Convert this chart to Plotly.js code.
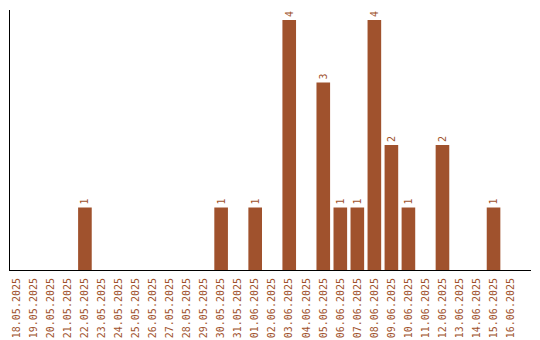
<!DOCTYPE html>
<html><head><meta charset="utf-8">
<script src="https://cdn.plot.ly/plotly-3.0.1.min.js"></script>
<style>html,body{margin:0;padding:0;background:#fff}#chart{width:540px;height:340px}</style>
</head><body><div id="chart"></div>
<script>
const dates = ["18.05.2025","19.05.2025","20.05.2025","21.05.2025","22.05.2025","23.05.2025","24.05.2025","25.05.2025","26.05.2025","27.05.2025","28.05.2025","29.05.2025","30.05.2025","31.05.2025","01.06.2025","02.06.2025","03.06.2025","04.06.2025","05.06.2025","06.06.2025","07.06.2025","08.06.2025","09.06.2025","10.06.2025","11.06.2025","12.06.2025","13.06.2025","14.06.2025","15.06.2025","16.06.2025"];
const counts = [0,0,0,0,1,0,0,0,0,0,0,0,1,0,1,0,4,0,3,1,1,4,2,1,0,2,0,0,1,0];
const labels = counts.map(v => v > 0 ? String(v) : "");
const color = "#A0522D";
const font = {family: "DejaVu Sans Mono, monospace", size: 10, color: color};
Plotly.newPlot("chart", [{
  type: "bar", x: dates, y: counts, text: labels,
  textposition: "outside", textangle: -90, cliponaxis: false,
  textfont: font, marker: {color: color}, hoverinfo: "none"
}], {
  width: 540, height: 340,
  margin: {l: 10, r: 9, t: 10, b: 70},
  paper_bgcolor: "#fff", plot_bgcolor: "#fff",
  bargap: 0.2, showlegend: false,
  xaxis: {type: "category", range: [-0.4, 30.2], tickangle: -90, tickfont: font, ticklabelstandoff: 3,
    showline: true, linecolor: "#000", linewidth: 1, ticks: "", showgrid: false, zeroline: false},
  yaxis: {range: [0, 4.16], showticklabels: false, showline: true, linecolor: "#000", linewidth: 1,
    ticks: "", showgrid: false, zeroline: false}
}, {displayModeBar: false, staticPlot: true});
</script></body></html>
